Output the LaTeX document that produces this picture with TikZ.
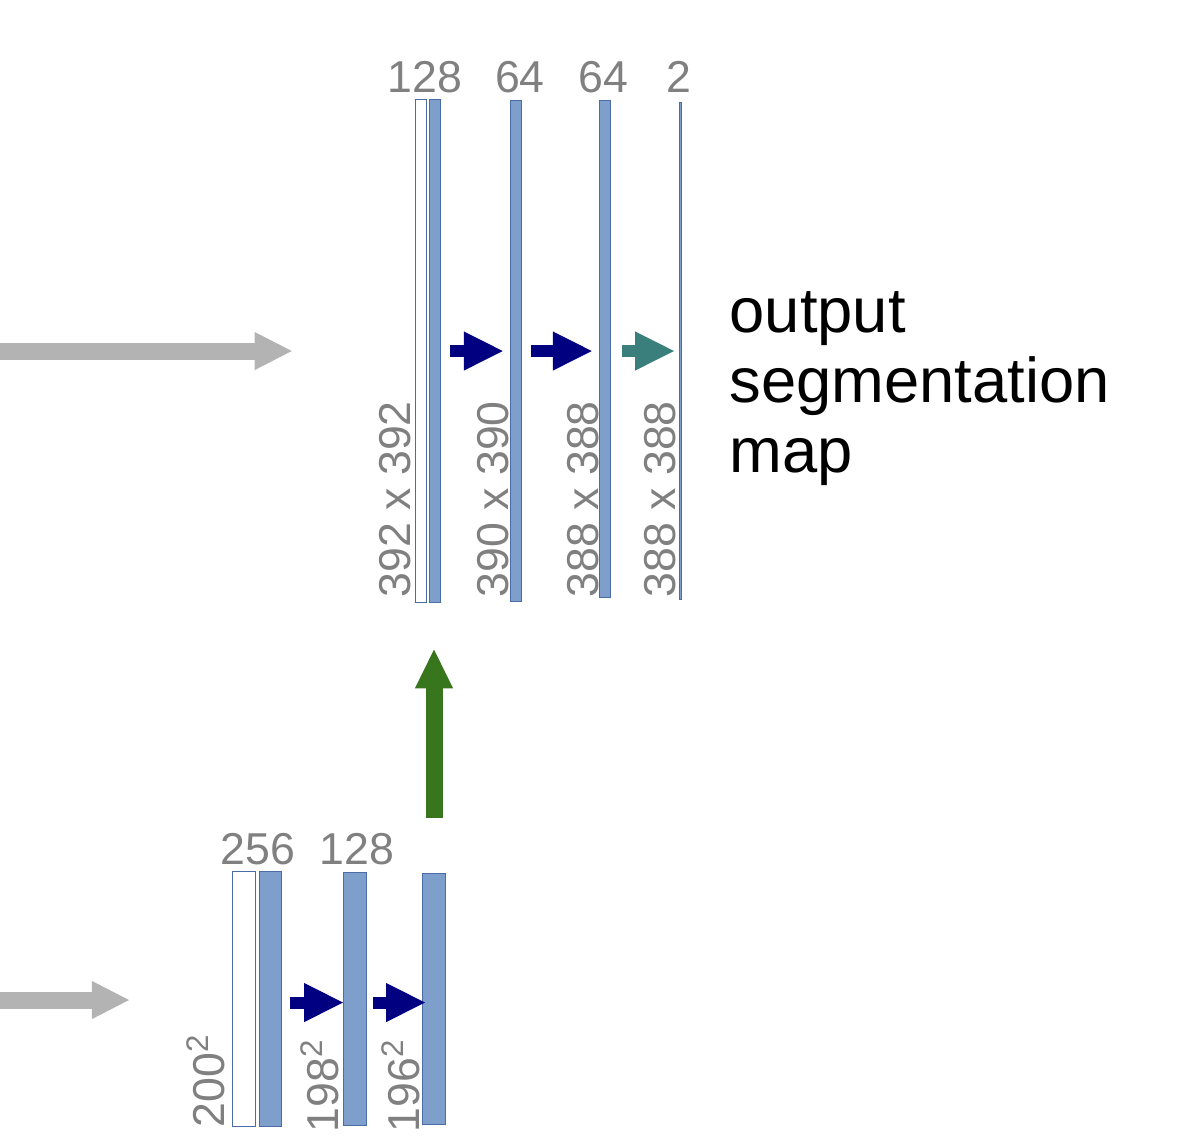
\documentclass[tikz,border=0pt]{standalone}
\usepackage{fontspec}
\setmainfont{Liberation Sans}
\usetikzlibrary{arrows.meta,positioning}
\definecolor{BarBlue}{HTML}{7E9ECB}
\definecolor{BarEdge}{HTML}{4A6DA7}
\definecolor{ConvNavy}{HTML}{000080}
\definecolor{OutTeal}{HTML}{3A7F7C}
\definecolor{UpGreen}{HTML}{38761D}
\definecolor{SkipGray}{HTML}{B3B3B3}
\definecolor{DimGray}{HTML}{808080}

\begin{document}
\begin{tikzpicture}[
  x=0.01cm,y=-0.01cm,
  fmap/.style={draw=BarEdge,fill=BarBlue,line width=.4pt,inner sep=0pt,
    minimum width=0.11cm},
  cmap/.style={fmap,fill=white},
  conv/.style={line width=0.12cm,draw=ConvNavy,
    -{Triangle[length=0.40cm,width=0.36cm]}},
  final/.style={conv,draw=OutTeal},
  skip/.style={line width=0.17cm,draw=SkipGray,
    -{Triangle[length=0.38cm,width=0.35cm]}},
  upconv/.style={line width=0.17cm,draw=UpGreen,
    -{Triangle[length=0.40cm,width=0.35cm]}},
  chan/.style={text=DimGray,font=\fontsize{12.7}{14}\selectfont,
    inner sep=0pt,anchor=base},
  dims/.style={chan,rotate=90,anchor=base west},
  caption/.style={font=\fontsize{18}{19.9}\selectfont,align=left,
    inner sep=0pt,anchor=base west}
]
\useasboundingbox (0,0) rectangle (1200,1144);
% upper level: copy + two convs + 1x1 conv
\node[cmap,minimum height=5.03cm] (c1) at (421,351) {};
\node[fmap,minimum height=5.03cm] (f1) at (435,351) {};
\node[fmap,minimum height=5.01cm] (f2) at (516,351) {};
\node[fmap,minimum height=4.97cm] (f3) at (605,349) {};
\node[fmap,minimum height=4.97cm,minimum width=0.015cm] (f4) at (680.5,351) {};
\node[chan] (n1) at (425,92) {128};
\node[chan] (n2) at (520,92) {64};
\node[chan] (n3) at (603,92) {64};
\node[chan] (n4) at (679,92) {2};
\node[dims] (d1) at (410,598) {392 x 392};
\node[dims] (d2) at (508,598) {390 x 390};
\node[dims] (d3) at (598,598) {388 x 388};
\node[dims] (d4) at (675,598) {388 x 388};
\draw[conv,shorten <=0.09cm,shorten >=0.06cm] (f1.east) -- (f1.east -| f2.west);
\draw[conv,shorten <=0.09cm,shorten >=0.06cm] (f1.east -| f2.east) -- (f1.east -| f3.west);
\draw[final,shorten <=0.11cm,shorten >=0.04cm] (f1.east -| f3.east) -- (f1.east -| f4.west);
\node[caption] (seg) at (729,472) {output\\segmentation\\map};
\coordinate (skip1) at (0,351);
\draw[skip,shorten >=1.22cm] (skip1) -- (c1.west);
% lower level
\node[cmap,minimum width=0.225cm,minimum height=2.55cm] (c2) at (244,999) {};
\node[fmap,minimum width=0.215cm,minimum height=2.55cm] (f5) at (270.5,999) {};
\node[fmap,minimum width=0.225cm,minimum height=2.53cm] (f6) at (355,999) {};
\node[fmap,minimum width=0.225cm,minimum height=2.51cm] (f7) at (434,999) {};
\node[chan] (n5) at (258,864) {256};
\node[chan] (n6) at (357,864) {128};
\node[dims] (d5) at (224,1128) {200\textsuperscript{2}};
\node[dims] (d6) at (338,1133) {198\textsuperscript{2}};
\node[dims] (d7) at (419,1133) {196\textsuperscript{2}};
\draw[conv,shorten <=0.08cm,shorten >=-0.01cm] ([yshift=-1]f5.east) -- ([yshift=-1]f6.west);
\draw[conv,shorten <=0.06cm,shorten >=-0.04cm] ([yshift=-1]f6.east) -- ([yshift=-1]f7.west);
\coordinate (skip2) at (0,1000);
\draw[skip,shorten >=1.02cm] (skip2) -- (skip2 -| c2.west);
\draw[upconv,shorten <=0.55cm,shorten >=0.45cm] (f7.north) -- (f7.north |- f1.south);
\end{tikzpicture}
\end{document}
